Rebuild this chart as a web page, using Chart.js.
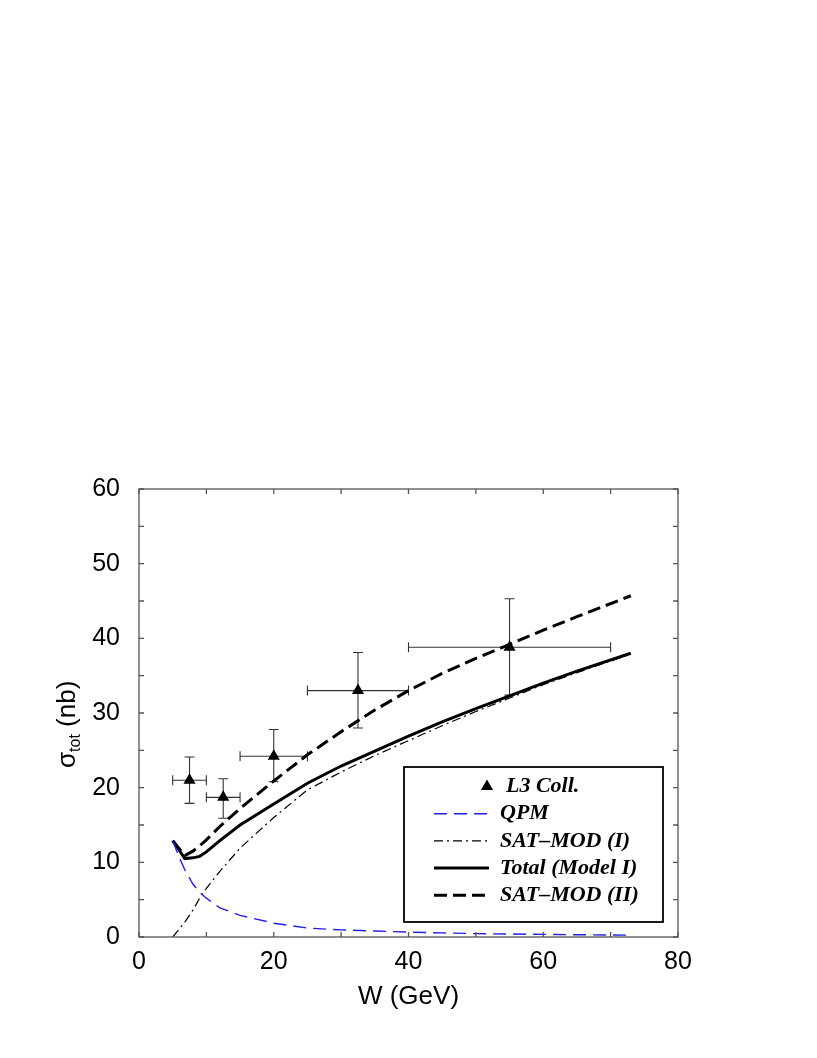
<!DOCTYPE html>
<html>
<head>
<meta charset="utf-8">
<script src="https://cdn.jsdelivr.net/npm/chart.js@4.4.1/dist/chart.umd.min.js"></script>
<style>
  html, body { margin: 0; padding: 0; background: #fff; }
  canvas { display: block; }
</style>
</head>
<body>
<canvas id="sigmaChart" width="817" height="1058"></canvas>
<script>
// ----------------------------------------
// sigma_tot vs W  (L3 data + model curves)
// ----------------------------------------

// L3 Coll. points with error bars
const l3W       = [7.5, 12.5, 20, 32.5, 55];
const l3Sigma   = [21.0, 18.7, 24.2, 33.0, 38.8];
const l3WLow    = [5, 10, 15, 25, 40];
const l3WHigh   = [10, 15, 25, 40, 70];
const l3SigLow  = [17.9, 15.9, 20.8, 28.0, 32.4];
const l3SigHigh = [24.1, 21.2, 27.8, 38.1, 45.3];

// model curves, all on the same W grid
const wGrid       = [5, 6, 6.8, 8, 9, 10, 12, 15, 20, 25, 30, 35, 40, 45, 50, 55, 60, 65, 73];
const qpm         = [12.9, 10.6, 9.0, 7.1, 6.0, 5.2, 3.9, 2.9, 1.85, 1.2, 0.95, 0.8, 0.65, 0.55, 0.45, 0.4, 0.35, 0.3, 0.25];
const satModI     = [0, 1.1, 2.0, 3.6, 5.2, 6.5, 8.8, 11.9, 16.0, 19.7, 22.1, 24.3, 26.3, 28.3, 30.2, 32.0, 33.8, 35.4, 37.9];
const totalModelI = [12.9, 11.6, 10.5, 10.6, 10.8, 11.4, 12.9, 15.0, 17.8, 20.6, 22.9, 24.9, 26.9, 28.8, 30.6, 32.3, 34.0, 35.6, 38.0];
const satModII    = [12.9, 11.8, 10.9, 11.5, 12.2, 13.0, 14.8, 17.2, 20.9, 24.4, 27.5, 30.4, 33.0, 35.3, 37.3, 39.2, 41.1, 42.9, 45.7];

// labelled ticks
const xTickLabels = [0, 20, 40, 60, 80];
const yTickLabels = [0, 10, 20, 30, 40, 50, 60];

const toXY = (xs, ys) => xs.map((v, i) => ({ x: v, y: ys[i] }));

const AXIS_FONT = '"Liberation Sans", Arial, sans-serif';
const LEGEND_FONT = 'bold italic 22px "Liberation Serif", "Times New Roman", serif';

// error bars under the triangles
const errorBars = {
    id: 'errorBars',
    beforeDatasetsDraw(chart) {
        const { ctx, scales: { x, y } } = chart;
        const cap = 5;
        ctx.save();
        ctx.strokeStyle = '#333';
        ctx.lineWidth = 1.1;
        ctx.beginPath();
        l3W.forEach((w, i) => {
            const px = x.getPixelForValue(w);
            const py = y.getPixelForValue(l3Sigma[i]);
            const xl = x.getPixelForValue(l3WLow[i]);
            const xh = x.getPixelForValue(l3WHigh[i]);
            const yl = y.getPixelForValue(l3SigLow[i]);
            const yh = y.getPixelForValue(l3SigHigh[i]);
            ctx.moveTo(xl, py); ctx.lineTo(xh, py);
            ctx.moveTo(xl, py - cap); ctx.lineTo(xl, py + cap);
            ctx.moveTo(xh, py - cap); ctx.lineTo(xh, py + cap);
            ctx.moveTo(px, yl); ctx.lineTo(px, yh);
            ctx.moveTo(px - cap, yl); ctx.lineTo(px + cap, yl);
            ctx.moveTo(px - cap, yh); ctx.lineTo(px + cap, yh);
        });
        ctx.stroke();
        ctx.restore();
    }
};

// box, inward ticks on all four sides, y title, legend
const frameAndLegend = {
    id: 'frameAndLegend',
    afterDraw(chart) {
        const { ctx, chartArea: a, scales: { x, y } } = chart;
        ctx.save();

        // frame + ticks
        ctx.strokeStyle = '#555';
        ctx.lineWidth = 1.3;
        ctx.strokeRect(a.left, a.top, a.width, a.height);
        ctx.beginPath();
        x.ticks.forEach(t => {
            const px = x.getPixelForValue(t.value);
            ctx.moveTo(px, a.bottom); ctx.lineTo(px, a.bottom - 5);
            ctx.moveTo(px, a.top); ctx.lineTo(px, a.top + 5);
        });
        y.ticks.forEach(t => {
            const py = y.getPixelForValue(t.value);
            ctx.moveTo(a.left, py); ctx.lineTo(a.left + 5, py);
            ctx.moveTo(a.right, py); ctx.lineTo(a.right - 5, py);
        });
        ctx.stroke();

        // y title: sigma_tot (nb), rotated
        ctx.save();
        ctx.translate(68, 768);
        ctx.rotate(-Math.PI / 2);
        ctx.fillStyle = '#000';
        ctx.textBaseline = 'middle';
        ctx.textAlign = 'left';
        ctx.font = '26px ' + AXIS_FONT;
        ctx.fillText('σ', 0, 0);
        let off = ctx.measureText('σ').width;
        ctx.font = '16px ' + AXIS_FONT;
        ctx.fillText('tot', off, 8);
        off += ctx.measureText('tot').width;
        ctx.font = '26px ' + AXIS_FONT;
        ctx.fillText(' (nb)', off, 0);
        ctx.restore();

        // legend box
        const bx = a.left + 265, by = a.top + 278;
        const bw = 259, bh = 155;
        ctx.fillStyle = '#fff';
        ctx.fillRect(bx, by, bw, bh);
        ctx.strokeStyle = '#000';
        ctx.lineWidth = 1.8;
        ctx.strokeRect(bx, by, bw, bh);

        ctx.font = LEGEND_FONT;
        ctx.textBaseline = 'middle';
        ctx.textAlign = 'left';
        chart.data.datasets.forEach((ds, i) => {
            const ry = by + 19.5 + i * 27.2;
            if (ds.showLine === false) {
                // marker row
                ctx.fillStyle = ds.pointBackgroundColor;
                const cx = bx + 83, r = 7;
                ctx.beginPath();
                ctx.moveTo(cx, ry - r);
                ctx.lineTo(cx + r * Math.sin(2 * Math.PI / 3), ry + r / 2);
                ctx.lineTo(cx - r * Math.sin(2 * Math.PI / 3), ry + r / 2);
                ctx.closePath();
                ctx.fill();
                ctx.fillStyle = '#000';
                ctx.fillText(ds.label, bx + 102, ry);
            } else {
                ctx.strokeStyle = ds.borderColor;
                ctx.lineWidth = ds.borderWidth;
                ctx.setLineDash(ds.borderDash || []);
                ctx.beginPath();
                ctx.moveTo(bx + 30, ry);
                ctx.lineTo(bx + 85, ry);
                ctx.stroke();
                ctx.setLineDash([]);
                ctx.fillStyle = '#000';
                ctx.fillText(ds.label, bx + 96, ry);
            }
        });

        ctx.restore();
    }
};

new Chart(document.getElementById('sigmaChart'), {
    type: 'line',
    data: {
        datasets: [
            {
                label: 'L3 Coll.',
                type: 'scatter',
                data: toXY(l3W, l3Sigma),
                showLine: false,
                pointStyle: 'triangle',
                pointRadius: 7,
                pointBackgroundColor: '#000',
                pointBorderWidth: 0,
                borderColor: '#000',
                order: 0
            },
            {
                label: 'QPM',
                data: toXY(wGrid, qpm),
                borderColor: '#1f1fe6',
                borderWidth: 1.4,
                borderDash: [13, 7],
                pointRadius: 0,
                order: 1
            },
            {
                label: 'SAT\u2013MOD (I)',
                data: toXY(wGrid, satModI),
                borderColor: '#000',
                borderWidth: 1.2,
                borderDash: [9, 4, 2, 4],
                pointRadius: 0,
                order: 1
            },
            {
                label: 'Total (Model I)',
                data: toXY(wGrid, totalModelI),
                borderColor: '#000',
                borderWidth: 3,
                pointRadius: 0,
                order: 1
            },
            {
                label: 'SAT\u2013MOD (II)',
                data: toXY(wGrid, satModII),
                borderColor: '#000',
                borderWidth: 3,
                borderDash: [13, 6],
                pointRadius: 0,
                order: 1
            }
        ]
    },
    options: {
        responsive: false,
        animation: false,
        layout: { padding: { top: 489, right: 139, left: 0, bottom: 0 } },
        plugins: {
            legend: { display: false },
            tooltip: { enabled: false }
        },
        scales: {
            x: {
                type: 'linear',
                min: 0,
                max: 80,
                grid: { display: false, drawTicks: false },
                border: { display: false },
                ticks: {
                    stepSize: 10,
                    autoSkip: false,
                    maxRotation: 0,
                    padding: 10,
                    color: '#000',
                    font: { size: 25, family: AXIS_FONT },
                    callback: v => xTickLabels.includes(v) ? v : ''
                },
                title: {
                    display: true,
                    text: 'W (GeV)',
                    color: '#000',
                    font: { size: 26, family: AXIS_FONT },
                    padding: { top: 0, bottom: 46 }
                },
                afterFit: s => { s.height = 121; }
            },
            y: {
                type: 'linear',
                min: 0,
                max: 60,
                grid: { display: false, drawTicks: false },
                border: { display: false },
                ticks: {
                    stepSize: 5,
                    autoSkip: false,
                    padding: 19,
                    color: '#000',
                    font: { size: 25, family: AXIS_FONT },
                    callback: v => yTickLabels.includes(v) ? v : ''
                },
                afterFit: s => { s.width = 139; }
            }
        }
    },
    plugins: [errorBars, frameAndLegend]
});
</script>
</body>
</html>
